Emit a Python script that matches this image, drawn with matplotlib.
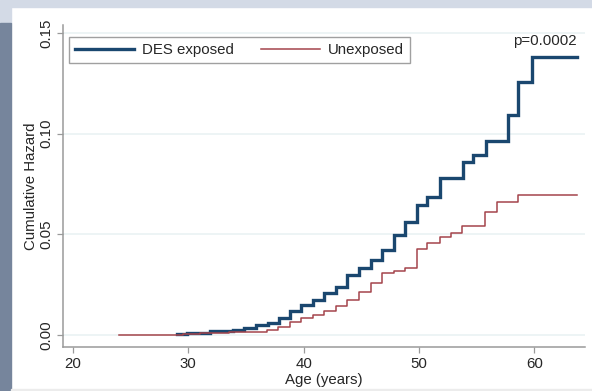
import matplotlib
matplotlib.use("Agg")
import matplotlib.pyplot as plt
from matplotlib.patches import Rectangle

# cumulative hazard step data
des_age = [29.0, 29.9, 31.9, 33.9, 34.8, 35.9, 36.9, 37.9, 38.8, 39.8, 40.8,
           41.8, 42.8, 43.8, 44.8, 45.8, 46.8, 47.8, 48.8, 49.8, 50.7, 51.8,
           53.8, 54.7, 55.8, 57.7, 58.6, 59.8, 63.7]
des_haz = [0.0005, 0.0012, 0.0020, 0.0025, 0.0035, 0.0050, 0.0063, 0.0084,
           0.0122, 0.0150, 0.0175, 0.0208, 0.0241, 0.0299, 0.0332, 0.0374,
           0.0423, 0.0498, 0.0564, 0.0647, 0.0688, 0.0779, 0.0861, 0.0895,
           0.0966, 0.1093, 0.1258, 0.1382, 0.1382]

unexp_age = [24.0, 29.5, 31.0, 33.5, 36.8, 37.8, 38.8, 39.8, 40.8, 41.8,
             42.8, 43.8, 44.8, 45.8, 46.8, 47.8, 48.8, 49.8, 50.7, 51.8,
             52.8, 53.7, 55.7, 56.8, 58.6, 63.7]
unexp_haz = [0.0003, 0.0006, 0.0010, 0.0015, 0.0026, 0.0043, 0.0067, 0.0084,
             0.0101, 0.0122, 0.0147, 0.0175, 0.0216, 0.0261, 0.0308, 0.0320,
             0.0332, 0.0427, 0.0456, 0.0487, 0.0508, 0.0542, 0.0613, 0.0663,
             0.0696, 0.0696]

x_ticks = [20, 30, 40, 50, 60]
y_ticks = [0.00, 0.05, 0.10, 0.15]
y_labels = ["0.00", "0.05", "0.10", "0.15"]

plt.rcParams['font.family'] = ['Liberation Sans', 'DejaVu Sans']
FS = 10.8
W, H = 592, 391
BLUE = '#1a476f'
RED = '#a4444b'
AXC = '#9a9a9a'
TXT = '#262626'

fig = plt.figure(figsize=(W / 100, H / 100), dpi=100)
fig.patch.set_facecolor('white')

# slide background strips
def px_rect(x, y, w, h, color):
    fig.patches.append(Rectangle((x / W, 1 - (y + h) / H), w / W, h / H,
                                 transform=fig.transFigure, color=color,
                                 zorder=-10))

px_rect(0, 0, W, 7, '#d3dae6')
px_rect(0, 7, 11, 16, '#d3dae6')
px_rect(0, 23, 11, H - 23, '#76859c')
px_rect(11, H - 2, W - 11, 2, '#ececec')

ax = fig.add_axes([63 / W, 44 / H, 522 / W, 322 / H])
ax.set_facecolor('none')

ax.step(des_age, des_haz, where='post', color=BLUE, lw=2.4,
        label='DES exposed', zorder=3, solid_joinstyle='miter')
ax.step(unexp_age, unexp_haz, where='post', color=RED, lw=1.1,
        label='Unexposed', zorder=4)

ax.set_xlim(19.13, 64.4)
ax.set_ylim(-0.0058, 0.1539)
ax.set_xticks(x_ticks)
ax.set_yticks(y_ticks)
ax.set_yticklabels(y_labels, rotation=90, va='center')

for s in ['top', 'right']:
    ax.spines[s].set_visible(False)
for s in ['left', 'bottom']:
    ax.spines[s].set_color(AXC)
    ax.spines[s].set_linewidth(1.1)

ax.tick_params(axis='both', colors=AXC, labelcolor=TXT, length=4.3,
               width=0.9, labelsize=FS)
ax.tick_params(axis='y', pad=2.5)
ax.tick_params(axis='x', pad=3)
ax.grid(axis='y', color='#eaf2f3', lw=1.2)
ax.set_axisbelow(True)

ax.set_xlabel('Age (years)', fontsize=FS, color=TXT, labelpad=1)
ax.set_ylabel('Cumulative Hazard', fontsize=FS, color=TXT, labelpad=1)

leg = ax.legend(loc='upper left', bbox_to_anchor=(69 / W, 1 - 37 / H),
                bbox_transform=fig.transFigure, borderaxespad=0, ncol=2,
                fontsize=FS, handlelength=3.9, handletextpad=0.55,
                columnspacing=1.85, borderpad=0.4, fancybox=False,
                framealpha=1, edgecolor='#a0a0a0')
leg.get_frame().set_linewidth(1.0)
for t in leg.get_texts():
    t.set_color(TXT)

fig.text(577 / W, 1 - 45.5 / H, 'p=0.0002', ha='right', va='baseline',
         fontsize=FS, color=TXT)

fig.savefig('out.png', dpi=100)
